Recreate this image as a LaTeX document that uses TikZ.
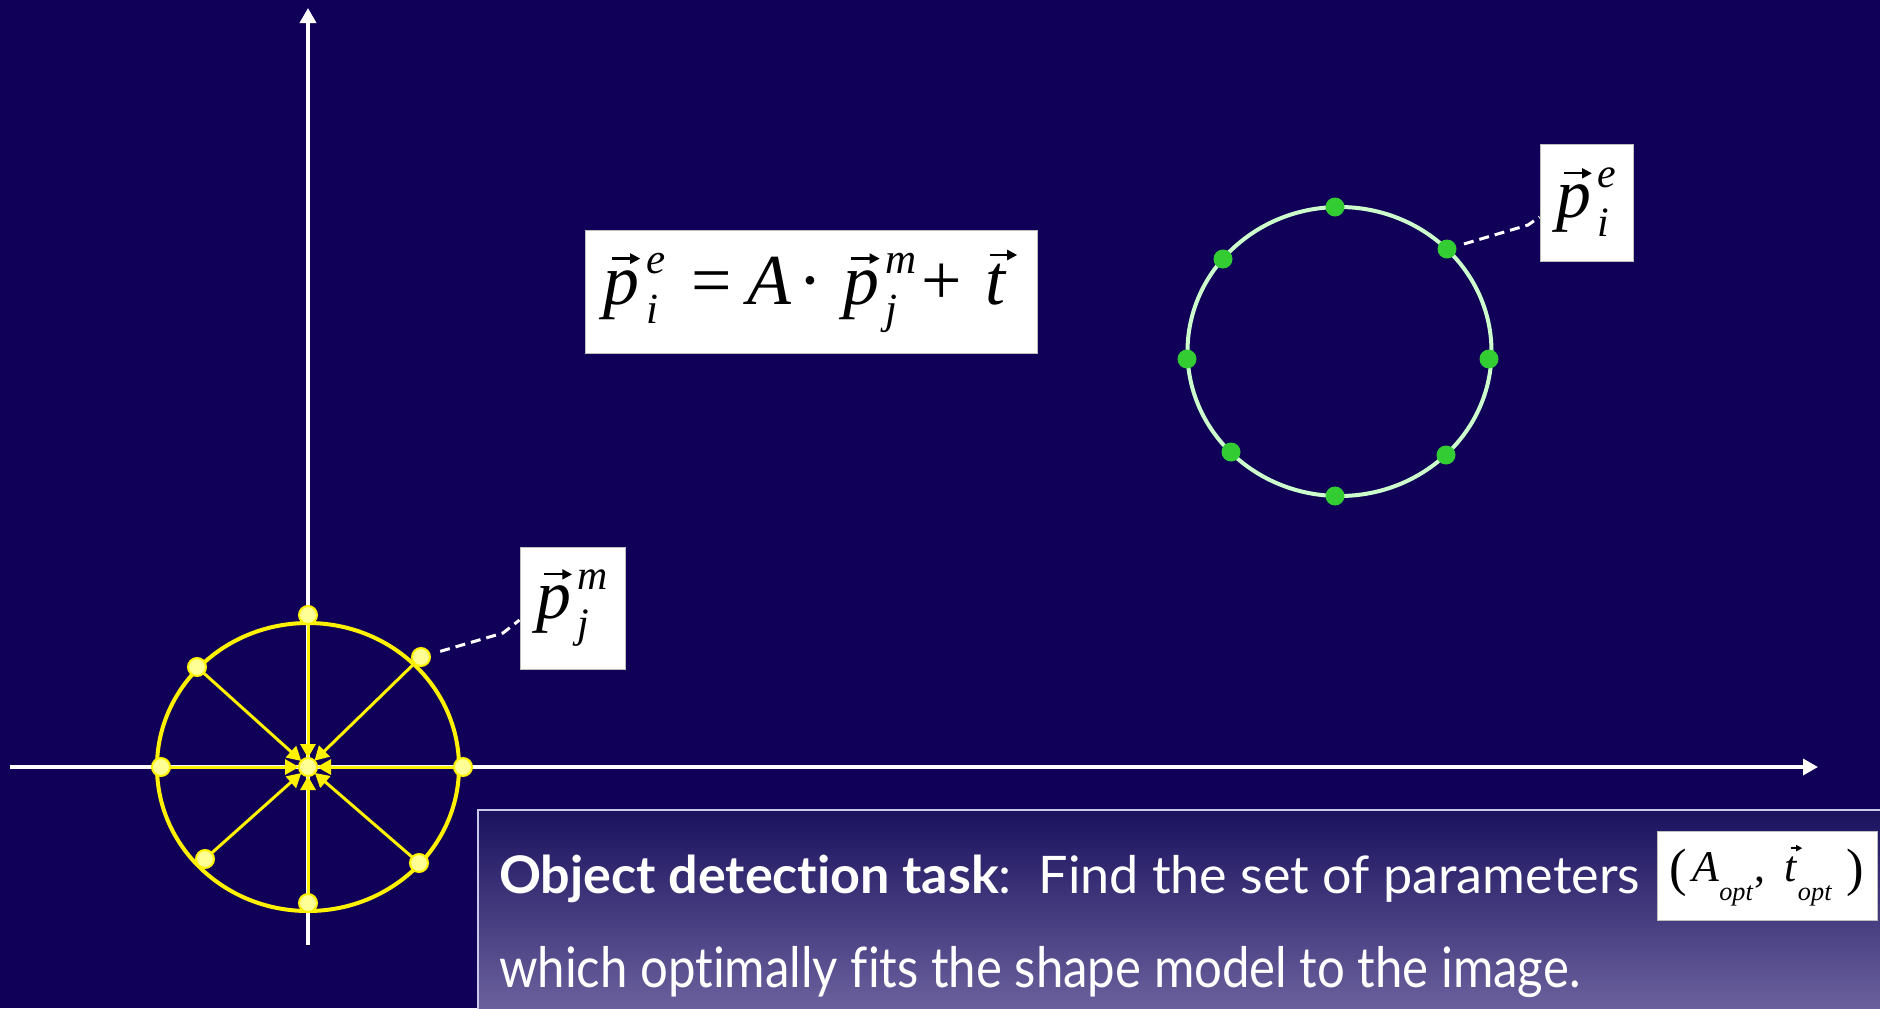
\documentclass[tikz,border=0pt]{standalone}
\usepackage{fontspec}
\usepackage{graphicx}
\setsansfont{Lato}[Ligatures=NoCommon]
\newfontfamily\tnr{Liberation Serif}
\usetikzlibrary{arrows.meta,calc}
\definecolor{bgblue}{RGB}{16,0,88}
\definecolor{dotyellow}{RGB}{255,255,150}
\definecolor{ringgreen}{RGB}{204,255,204}
\definecolor{dotgreen}{RGB}{51,204,51}
\definecolor{boxtop}{RGB}{26,18,94}
\definecolor{boxbot}{RGB}{108,98,158}
\definecolor{boxedge}{RGB}{200,200,235}
% small vector arrow (length #1)
\newcommand\varrow[1]{\tikz[baseline=0pt]\draw[black, line width=0.32pt,-{Triangle[length=1.4pt,width=1.4pt]}] (0pt,0pt) -- (#1,0pt);}
% vector symbol with sub- and superscript (base size 10pt)
\newcommand\vsym[3]{%
  \makebox[0pt][l]{\hspace{0.9pt}\raisebox{6.4pt}{\varrow{4pt}}}\textit{#1}%
  \hspace{0.9pt}\makebox[0pt][l]{\raisebox{-2.7pt}{\fontsize{6}{6}\selectfont\itshape #2}}%
  \raisebox{4.3pt}{\fontsize{6}{6}\selectfont\itshape #3}}
\newcommand\optsub{\raisebox{-4.3pt}{\fontsize{6}{6}\selectfont\itshape opt}}
\newcommand\bigparen[1]{\raisebox{-1pt}{\fontsize{12}{12}\selectfont #1}}
\begin{document}
\begin{tikzpicture}[x=1bp,y=-1bp,
  axisline/.style={white, line width=3.5bp, -{Triangle[length=15bp,width=16bp]}},
  spoke/.style={yellow, line width=3bp, shorten >=9bp, -{Triangle[length=14bp,width=15bp]}},
  ydot/.style={circle, draw=yellow, fill=dotyellow, line width=2bp, minimum size=18bp, inner sep=0pt},
  gdot/.style={circle, fill=dotgreen, minimum size=19bp, inner sep=0pt},
  labelbox/.style={draw=gray!50, fill=white, line width=1bp, inner sep=0pt, text=black, font=\tnr},
  conn/.style={white, line width=3bp, dash pattern=on 10bp off 6bp},
  tasktext/.style={anchor=base west, text=white, inner sep=0pt}
]
\fill[bgblue] (0,0) rectangle (1880,1008);
\useasboundingbox (0,0) rectangle (1880,1008);

% axes
\coordinate (xs) at (10,767);
\coordinate (xe) at (1818,767);
\coordinate (ys) at (308,945);
\coordinate (ye) at (308,8);
\draw[axisline] (xs) -- (xe);
\draw[axisline] (ys) -- (ye);

% yellow model shape
\coordinate (yc) at (308,767);
\coordinate (yT) at (308,615);
\coordinate (yUR) at (421,657);
\coordinate (yR) at (463,767);
\coordinate (yLR) at (419,863);
\coordinate (yB) at (308,903);
\coordinate (yLL) at (205,859);
\coordinate (yL) at (161,767);
\coordinate (yUL) at (197,667);
\draw[yellow, line width=4bp] (yc) ellipse [x radius=151, y radius=144];
\foreach \p in {yT,yUR,yR,yLR,yB,yLL,yL,yUL}{\draw[spoke] (\p) -- (yc);}
\node[ydot] (dc) at (yc) {};
\node[ydot] (dT) at (yT) {};
\node[ydot] (dUR) at (yUR) {};
\node[ydot] (dR) at (yR) {};
\node[ydot] (dLR) at (yLR) {};
\node[ydot] (dB) at (yB) {};
\node[ydot] (dLL) at (yLL) {};
\node[ydot] (dL) at (yL) {};
\node[ydot] (dUL) at (yUL) {};

% green image shape
\coordinate (gc) at (1339.5,351.5);
\draw[ringgreen, line width=4bp] (gc) ellipse [x radius=152, y radius=144.5];
\node[gdot] (gT) at (1335,207) {};
\node[gdot] (gUR) at (1447,249) {};
\node[gdot] (gR) at (1489,359) {};
\node[gdot] (gLR) at (1446,455) {};
\node[gdot] (gB) at (1335,496) {};
\node[gdot] (gLL) at (1231,452) {};
\node[gdot] (gL) at (1187,359) {};
\node[gdot] (gUL) at (1223,259) {};

% equation
\node[labelbox, minimum width=452bp, minimum height=123bp] (eq) at (811,291.5)
  {\scalebox{7.2}{\vsym{p}{i}{e}\hspace{3.6pt}=\hspace{2.2pt}\textit{A}\hspace{1pt}·\hspace{2.9pt}\vsym{p}{j}{m}\hspace{0.6pt}+\hspace{3.3pt}\makebox[0pt][l]{\hspace{0.5pt}\raisebox{6.9pt}{\varrow{3.8pt}}}\textit{t}\hspace{1.6pt}}};

% labels
\node[labelbox, minimum width=93bp, minimum height=117bp] (pe) at (1586.5,202.5)
  {\scalebox{7}{\vsym{p}{i}{e}}};
\node[labelbox, minimum width=105bp, minimum height=122bp] (pm) at (572.5,608)
  {\scalebox{7}{\vsym{p}{j}{m}}};
\coordinate (peb) at (1528,225);
\coordinate (pmb) at (503,633);
\draw[conn, shorten <=8bp] (gUR) -- (peb) -- ($(pe.west)+(0,14.5)$);
\draw[conn, shorten <=10bp] (dUR) -- (pmb) -- ($(pm.west)+(0,12)$);

% task box
\shade[top color=boxtop, bottom color=boxbot] (478,810) rectangle (1884,1012);
\draw[boxedge, line width=2.5bp] (1884,810) -- (478,810) -- (478,1012);
\node[tasktext] (l1) at (499,893)
  {\resizebox{1141bp}{\height}{\fontsize{52}{60}\selectfont\sffamily\textbf{Object detection task}:\ \ Find the set of parameters}};
\node[tasktext] (l2) at (499,987)
  {\resizebox{1081bp}{\height}{\fontsize{56}{64}\selectfont\sffamily which optimally fits the shape model to the image.}};
\node[labelbox, minimum width=220bp, minimum height=89bp] (opt) at (1767,875.5)
  {\scalebox{4.4}{\bigparen{(}\hspace{1.2pt}\textit{A}\optsub\hspace{0.3pt},\hspace{4.5pt}\makebox[0pt][l]{\hspace{1.2pt}\raisebox{7.6pt}{\varrow{2.6pt}}}\textit{t}\optsub\hspace{3.5pt}\bigparen{)}}};
\end{tikzpicture}
\end{document}
